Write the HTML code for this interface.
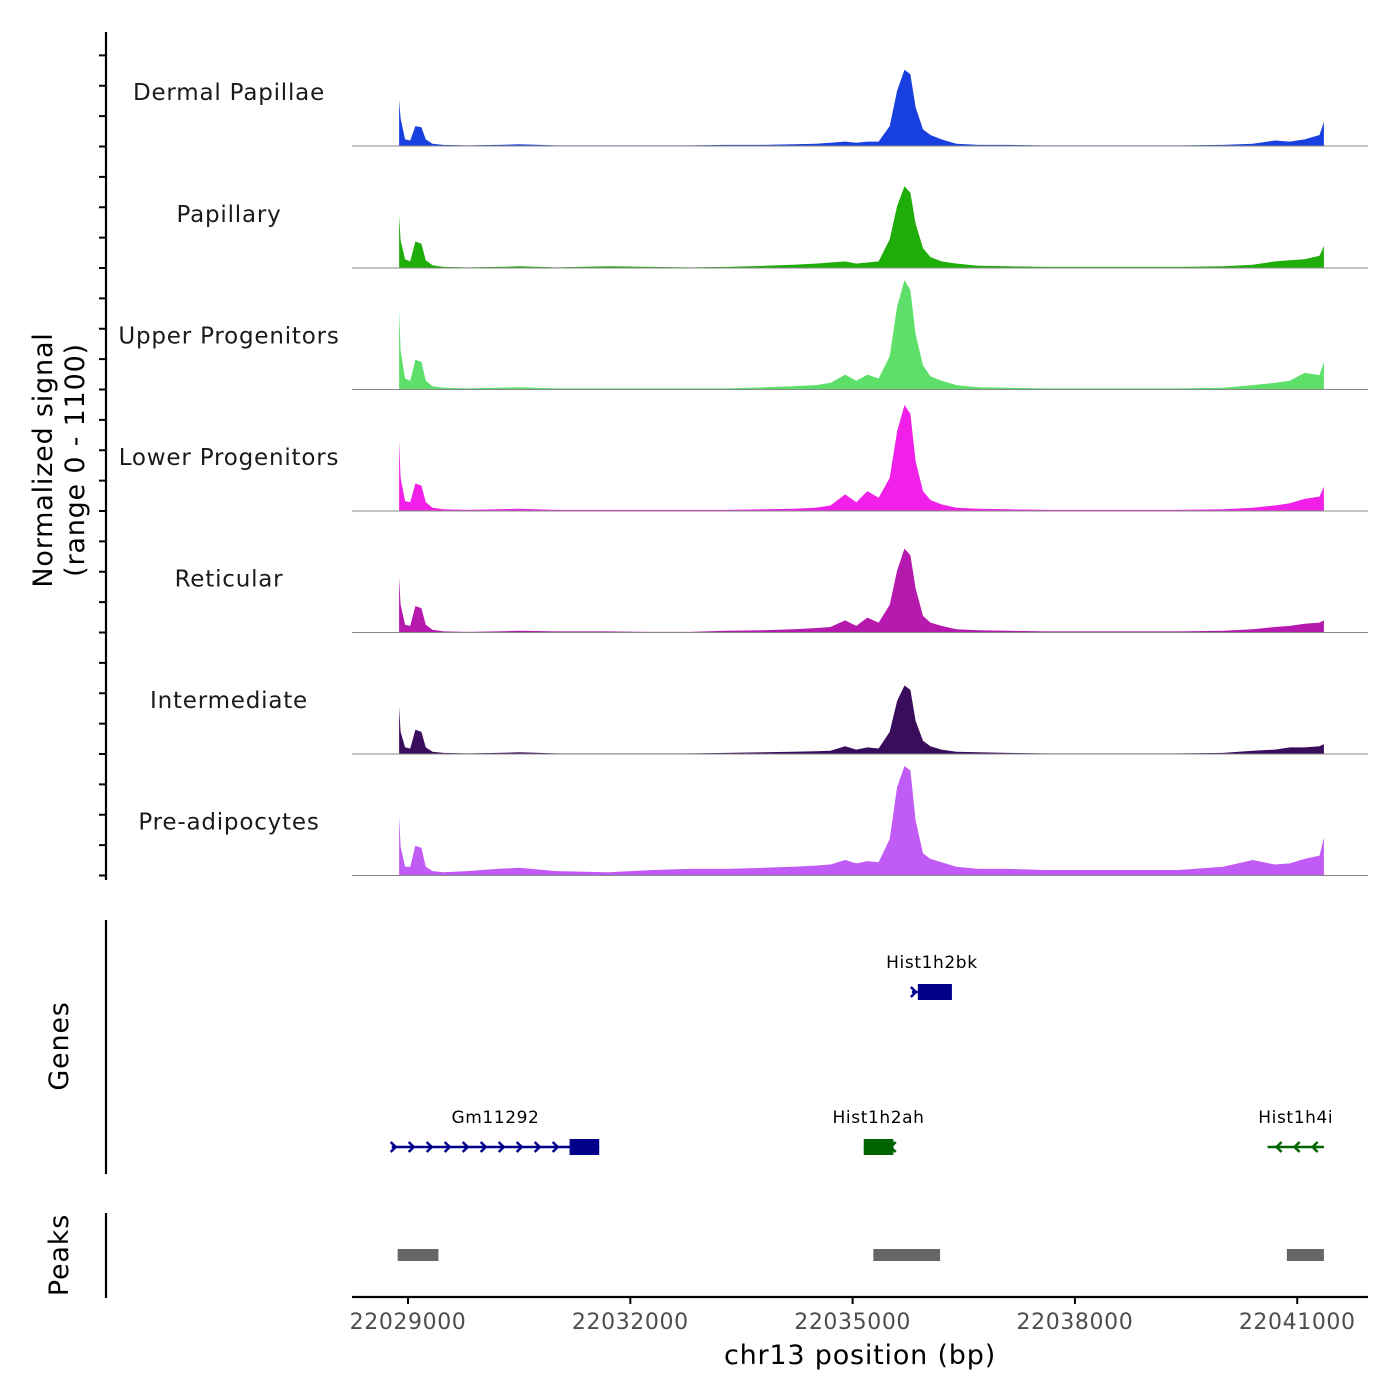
<!DOCTYPE html>
<html><head><meta charset="utf-8"><style>
html,body{margin:0;padding:0;background:#fff}
svg{display:block;font-family:"DejaVu Sans","Liberation Sans",sans-serif}
</style></head><body>
<svg id="chart" width="1400" height="1400" viewBox="0 0 1400 1400" xmlns="http://www.w3.org/2000/svg">
<g id="tracks"></g>
<g id="leftaxis"></g>
<text x="52" y="460" font-size="27" letter-spacing="0.8" text-anchor="middle" transform="rotate(-90 52 460)">Normalized signal</text>
<text x="84" y="460" font-size="27" letter-spacing="0.8" text-anchor="middle" transform="rotate(-90 84 460)">(range 0 - 1100)</text>
<line x1="106" y1="920" x2="106" y2="1174" stroke="#000" stroke-width="2.2"/>
<text x="68" y="1046" font-size="27" letter-spacing="0.8" text-anchor="middle" transform="rotate(-90 68 1046)">Genes</text>
<line x1="106" y1="1213" x2="106" y2="1298" stroke="#000" stroke-width="2.2"/>
<text x="68" y="1255" font-size="27" letter-spacing="0.8" text-anchor="middle" transform="rotate(-90 68 1255)">Peaks</text>
<g id="genes"></g>
<g id="peaks"></g>
<g id="xaxis"></g>
<text x="860" y="1364" font-size="27" letter-spacing="0.8" text-anchor="middle">chr13 position (bp)</text>
</svg>
<script>
const NS="http://www.w3.org/2000/svg";
const trackNames=["Dermal Papillae","Papillary","Upper Progenitors","Lower Progenitors","Reticular","Intermediate","Pre-adipocytes"];
const trackColors=["#1840e0","#1fad09","#5ddf6a","#f020e8","#b519ad","#3a0d5c","#c05bf5"];
const positions=[22028880,22028900,22028960,22029030,22029100,22029180,22029240,22029330,22029480,22029800,22030200,22030500,22031000,22031700,22032300,22032800,22033300,22033800,22034200,22034500,22034700,22034900,22035050,22035200,22035350,22035500,22035600,22035700,22035780,22035850,22035950,22036050,22036200,22036400,22036700,22037100,22037600,22038200,22038800,22039400,22040000,22040400,22040700,22040900,22041100,22041300,22041360];
const sigDP=[420,250,60,50,180,170,60,20,10,5,10,15,5,5,5,5,10,10,15,20,30,40,30,40,40,180,500,690,650,350,150,100,60,20,10,10,5,5,5,5,10,20,50,40,60,100,220];
const sigPap=[480,250,80,60,240,220,70,25,10,5,10,15,5,15,10,5,10,20,30,40,50,60,40,50,60,260,560,740,680,400,180,100,60,40,20,15,10,10,10,10,15,30,60,70,80,110,200];
const sigUpper=[720,350,100,80,270,250,80,30,15,10,15,20,10,10,10,10,10,20,30,40,60,135,80,135,100,300,750,990,900,500,220,120,80,40,20,15,10,10,10,10,15,40,60,80,150,130,250];
const sigLower=[630,300,90,80,250,230,80,30,15,10,15,20,10,10,10,10,10,15,20,30,50,150,80,180,120,300,720,960,880,450,180,100,60,30,20,15,10,10,10,10,15,30,50,70,110,130,220];
const sigRet=[500,250,70,60,240,220,70,25,10,5,10,15,10,10,5,5,15,20,30,40,50,110,60,135,90,250,560,760,700,400,150,90,60,30,20,15,10,10,10,10,15,30,50,60,80,90,110];
const sigInt=[430,200,60,50,220,200,60,20,10,5,10,15,5,5,5,5,10,15,20,25,30,70,40,60,50,200,480,620,580,300,120,70,40,20,15,10,5,5,5,5,10,30,40,60,60,70,90];
const sigPre=[540,260,80,80,270,250,80,40,30,40,60,70,40,30,50,60,60,70,80,90,100,140,110,130,120,330,800,990,950,500,200,150,120,80,60,60,50,50,50,50,80,140,100,110,150,180,340];
const signals=[sigDP,sigPap,sigUpper,sigLower,sigRet,sigInt,sigPre];
const xTicks=[22029000,22032000,22035000,22038000,22041000];
const geneNames=["Gm11292","Hist1h2bk","Hist1h2ah","Hist1h4i"];
const geneStarts=[22028780,22035800,22035150,22040600];
const geneEnds=[22031580,22036340,22035550,22041360];
const exonStarts=[22031180,22035880,22035150,22040600];
const exonEnds=[22031580,22036340,22035550,22040600];
const geneStrand=[1,1,-1,-1];
const geneRow=[1,0,1,1];
const peakStarts=[22028860,22035280,22040860];
const peakEnds=[22029410,22036180,22041360];
const yMax=1100;

const X0=352,X1=1368,D0=22028244,D1=22041955;
const sx=v=>X0+(v-D0)/(D1-D0)*(X1-X0);
const bases=[146,268,389.5,511,632.5,754,875.5];
const trackH=121.5;
const sy=(v,i)=>bases[i]-v/yMax*trackH;
function mk(tag,attrs,parent){const e=document.createElementNS(NS,tag);for(const k in attrs)e.setAttribute(k,attrs[k]);parent.appendChild(e);return e;}

const tg=document.getElementById('tracks');
signals.forEach((s,i)=>{
  let d="M"+sx(positions[0])+","+bases[i];
  s.forEach((v,j)=>{d+=" L"+sx(positions[j]).toFixed(1)+","+sy(v,i).toFixed(1);});
  d+=" L"+sx(positions[positions.length-1])+","+bases[i]+" Z";
  const p=mk('path',{d:d,fill:trackColors[i]},tg);
  
  
  const l=mk('line',{x1:352,x2:1368,y1:bases[i],y2:bases[i],stroke:"#888","stroke-width":1},tg);
  
  
  const t=mk('text',{x:229,y:bases[i]-46,"font-size":23,"letter-spacing":"0.8","text-anchor":"middle",fill:"#1a1a1a"},tg);
  t.textContent=trackNames[i];
  
  
});

const la=document.getElementById('leftaxis');
mk('line',{x1:106,x2:106,y1:32,y2:880,stroke:"#000","stroke-width":2.2},la);
for(let y=875.5;y>40;y-=trackH/4){
  const tk=mk('line',{x1:99,x2:106,y1:y,y2:y,stroke:"#000","stroke-width":2},la);
  
  
}

const gg=document.getElementById('genes');
const rowY=[992,1147];
geneNames.forEach((n,i)=>{
  const y=rowY[geneRow[i]];
  const col=geneStrand[i]>0?"#00008b":"#006400";
  const g=mk('g',{},gg);
  
  
  const a=sx(geneStarts[i]),b=sx(geneEnds[i]);
  mk('line',{x1:a,x2:b,y1:y,y2:y,stroke:col,"stroke-width":2.5},g);
  for(let x=a+4;x<b-2;x+=18){
    const dx=geneStrand[i]>0?5:-5;
    const cx=geneStrand[i]>0?x:x+5;
    mk('polyline',{points:(cx-dx)+","+(y-5)+" "+cx+","+y+" "+(cx-dx)+","+(y+5),fill:"none",stroke:col,"stroke-width":2.5},g);
  }
  const ea=sx(exonStarts[i]),eb=sx(exonEnds[i]);
  if(eb>ea) mk('rect',{x:ea,y:y-8,width:eb-ea,height:16,fill:col},g);
  const t=mk('text',{x:(a+b)/2,y:y-24,"font-size":17,"letter-spacing":"0.6","text-anchor":"middle",fill:"#000"},g);
  t.textContent=n;
});

const pg=document.getElementById('peaks');
peakStarts.forEach((s,i)=>{
  const r=mk('rect',{x:sx(s),y:1249,width:sx(peakEnds[i])-sx(s),height:12,fill:"#666"},pg);
  
  
});

const xa=document.getElementById('xaxis');
mk('line',{x1:352,x2:1368,y1:1297,y2:1297,stroke:"#000","stroke-width":2.2},xa);
xTicks.forEach(v=>{
  const x=sx(v);
  mk('line',{x1:x,x2:x,y1:1297,y2:1304,stroke:"#000","stroke-width":2},xa);
  const t=mk('text',{x:x,y:1329,"font-size":22,"letter-spacing":"0.6","text-anchor":"middle",fill:"#4d4d4d"},xa);
  t.textContent=v;
  
  
});
</script>
</body></html>
